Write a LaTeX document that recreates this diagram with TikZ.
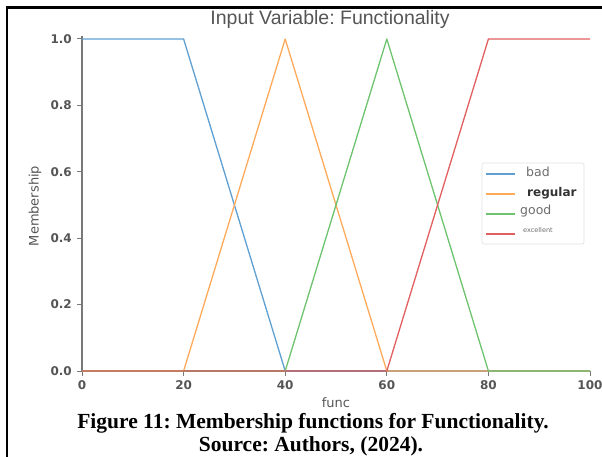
\documentclass[tikz,border=0pt]{standalone}
\usepackage{fontspec}
\setmainfont{Liberation Serif}
\newfontfamily\plotfont{DejaVu Sans}
\newfontfamily\titlefont{Liberation Sans}
\definecolor{cblue}{RGB}{95,160,210}
\definecolor{corange}{RGB}{255,170,90}
\definecolor{cgreen}{RGB}{110,195,110}
\definecolor{cred}{RGB}{225,95,95}
\definecolor{axgray}{RGB}{120,120,120}
\definecolor{txtgray}{RGB}{85,85,85}
\definecolor{lightgray}{RGB}{110,110,110}
\begin{document}
\frenchspacing
\begin{tikzpicture}[x=1pt,y=-1pt,
  curve/.style={line width=1.3pt, line join=round},
  ticklab/.style={font=\plotfont\bfseries\fontsize{12}{13}\selectfont, text=txtgray, inner sep=0pt},
  axlab/.style={font=\plotfont\fontsize{13}{14}\selectfont, text=txtgray, inner sep=0pt},
  leglab/.style={font=\plotfont\fontsize{12.5}{13}\selectfont, text=lightgray, anchor=west, inner sep=0pt},
  capt/.style={font=\bfseries\fontsize{21.5}{24}\selectfont, inner sep=0pt}]
\useasboundingbox (0,0) rectangle (602,457);
% frame
\draw[line width=2.4pt, black] (7,457) -- (7,7.5) -- (602,7.5);
% title
\node[font=\titlefont\fontsize{19.5}{21}\selectfont, text=txtgray, inner sep=0pt] (title) at (330,19) {Input Variable: Functionality};
% axes
\coordinate (o) at (82,371);
\coordinate (ytop) at (82,36);
\coordinate (xend) at (590,371);
\draw[axgray, line width=1.2pt] (ytop) -- (o) -- (xend);
% y ticks
\foreach \v/\l in {0/0.0,0.2/0.2,0.4/0.4,0.6/0.6,0.8/0.8,1/1.0}{
  \pgfmathsetmacro{\yy}{371-332*\v}
  \draw[axgray, line width=1pt] (77,\yy) -- (82,\yy);
  \node[ticklab, anchor=east] (yl\l) at (72,\yy) {\l};
}
% x ticks
\foreach \v in {0,20,40,60,80,100}{
  \pgfmathsetmacro{\xx}{82+5.08*\v}
  \draw[axgray, line width=1pt] (\xx,371) -- (\xx,376);
  \node[ticklab, anchor=north] (xl\v) at (\xx,380) {\v};
}
\node[axlab] (xlab) at (336,403) {func};
\node[axlab, rotate=90] (ylab) at (35,206) {Membership};
% curve vertices
\coordinate (p0h) at (82,39);
\coordinate (p20h) at (183.6,39);
\coordinate (p40h) at (285.2,39);
\coordinate (p60h) at (386.8,39);
\coordinate (p80h) at (488.4,39);
\coordinate (p100h) at (590,39);
\coordinate (p0) at (82,371);
\coordinate (p20) at (183.6,371);
\coordinate (p40) at (285.2,371);
\coordinate (p60) at (386.8,371);
\coordinate (p80) at (488.4,371);
\coordinate (p100) at (590,371);
\draw[curve, cblue] (p0h) -- (p20h) -- (p40) -- (p100);
\draw[curve, corange] (p0) -- (p20) -- (p40h) -- (p60) -- (p100);
\draw[curve, cgreen] (p0) -- (p40) -- (p60h) -- (p80) -- (p100);
\draw[curve, cred] (p0) -- (p60) -- (p80h) -- (p100h);
% legend
\draw[rounded corners=2pt, draw=black!12, fill=white, line width=0.6pt] (482,163) rectangle (584,244);
\draw[curve, cblue] (486,174) -- (515,174);
\draw[curve, corange] (486,194) -- (515,194);
\draw[curve, cgreen] (486,214) -- (515,214);
\draw[curve, cred] (486,234) -- (515,234);
\node[leglab] (lbad) at (526,172) {bad};
\node[leglab, font=\plotfont\bfseries\fontsize{12}{13}\selectfont, text=black!80] (lreg) at (527,193) {regular};
\node[leglab] (lgood) at (520,211) {good};
\node[leglab, font=\plotfont\fontsize{6.5}{7}\selectfont] (lexc) at (523,230) {excellent};
% caption
\node[capt] (cap1) at (313,423) {Figure 11: Membership functions for Functionality.};
\node[capt] (cap2) at (311,446) {Source: Authors, (2024).};
\end{tikzpicture}
\end{document}
